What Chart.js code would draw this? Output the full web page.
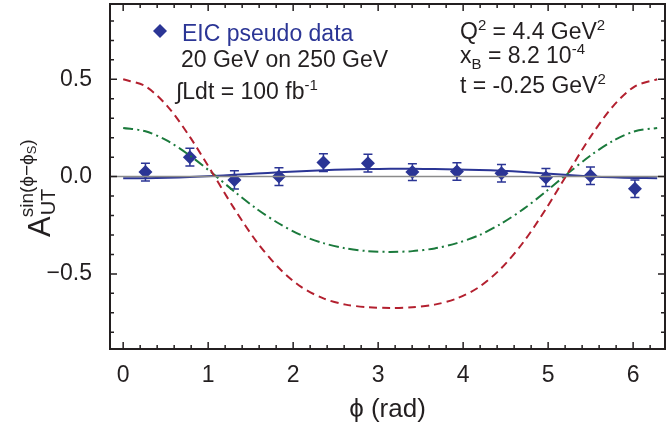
<!DOCTYPE html>
<html>
<head>
<meta charset="utf-8">
<script src="https://cdn.jsdelivr.net/npm/chart.js@4.4.0/dist/chart.umd.min.js"></script>
<style>
  html, body { margin: 0; padding: 0; background: #fff; overflow: hidden; }
</style>
</head>
<body>
<canvas id="chartCanvas" width="666" height="424"></canvas>
<script>
// abscisas de las curvas (rad), de 0 a 2pi
const phiCurva = [0, 0.262, 0.524, 0.785, 1.047, 1.309, 1.571, 1.833, 2.094, 2.356, 2.618, 2.880, 3.142,
  3.403, 3.665, 3.927, 4.189, 4.451, 4.712, 4.974, 5.236, 5.498, 5.760, 6.021, 6.283];
const curvaRoja = [0.500, 0.464, 0.360, 0.204, 0.021, -0.166, -0.335, -0.470, -0.567, -0.626, -0.658, -0.671, -0.675,
  -0.671, -0.658, -0.626, -0.567, -0.470, -0.335, -0.166, 0.021, 0.204, 0.360, 0.464, 0.500];
const curvaVerde = [0.250, 0.233, 0.183, 0.108, 0.018, -0.077, -0.166, -0.241, -0.301, -0.342, -0.369, -0.383, -0.387,
  -0.383, -0.369, -0.342, -0.301, -0.241, -0.166, -0.077, 0.018, 0.108, 0.183, 0.233, 0.250];
const curvaAzul = [-0.009, -0.008, -0.006, -0.002, 0.003, 0.009, 0.016, 0.022, 0.028, 0.033, 0.037, 0.039, 0.040,
  0.040, 0.039, 0.037, 0.034, 0.030, 0.024, 0.016, 0.008, 0.001, -0.004, -0.007, -0.008];

// pseudo datos EIC
const phiDatos = [0.262, 0.785, 1.309, 1.833, 2.356, 2.880, 3.403, 3.927, 4.451, 4.974, 5.498, 6.021];
const valoresDatos = [0.023, 0.100, -0.017, 0.000, 0.072, 0.069, 0.023, 0.026, 0.017, -0.005, 0.004, -0.063];
const erroresDatos = [0.046, 0.046, 0.047, 0.046, 0.046, 0.046, 0.043, 0.045, 0.045, 0.046, 0.045, 0.045];

const ticksX = [0, 1, 2, 3, 4, 5, 6];
const ticksY = [-0.5, 0, 0.5];
const limitesX = [-0.155, 6.375];
const limitesY = [-0.886, 0.887];

const NEGRO = "#231f20";
const AZUL = "#2b3595";
const ROJO = "#b3202f";
const VERDE = "#1b7a3c";
const FUENTE = "'Liberation Sans', Arial, sans-serif";

const puntos = (xs, ys) => xs.map((x, i) => ({ x, y: ys[i] }));

// dibuja trozos de texto seguidos (super/subindices)
function trozos(ctx, x, y, partes, color) {
  ctx.fillStyle = color;
  ctx.textBaseline = "alphabetic";
  ctx.textAlign = "left";
  partes.forEach(([txt, size, dy]) => {
    ctx.font = `${size}px ${FUENTE}`;
    ctx.fillText(txt, x, y + dy);
    x += ctx.measureText(txt).width;
  });
}

// sin relleno extra por las etiquetas de los extremos
function sinPadding(s) {
  s.paddingTop = 0; s.paddingBottom = 0;
  s.paddingLeft = 0; s.paddingRight = 0;
}

const marcoPlugin = {
  id: "marco",
  beforeDatasetDraw(chart, args) {
    if (args.index !== 4) return;
    const { ctx, scales: { x, y } } = chart;
    ctx.save();
    ctx.strokeStyle = AZUL;
    ctx.lineWidth = 1.5;
    phiDatos.forEach((p, i) => {
      const px = x.getPixelForValue(p);
      const y1 = y.getPixelForValue(valoresDatos[i] + erroresDatos[i]);
      const y2 = y.getPixelForValue(valoresDatos[i] - erroresDatos[i]);
      ctx.beginPath();
      ctx.moveTo(px, y1); ctx.lineTo(px, y2);
      ctx.moveTo(px - 4.5, y1); ctx.lineTo(px + 4.5, y1);
      ctx.moveTo(px - 4.5, y2); ctx.lineTo(px + 4.5, y2);
      ctx.stroke();
    });
    ctx.restore();
  },
  afterDraw(chart) {
    const { ctx, chartArea: a, scales: { x, y } } = chart;
    ctx.save();

    // marco
    ctx.strokeStyle = NEGRO;
    ctx.lineWidth = 2;
    ctx.strokeRect(a.left, a.top, a.right - a.left, a.bottom - a.top);

    // ticks hacia dentro
    ctx.lineWidth = 1.5;
    ctx.beginPath();
    for (let v = 0; v <= 6.4001; v += 0.2) {
      const px = x.getPixelForValue(v);
      if (px > a.right) break;
      const largo = Math.abs(v - Math.round(v)) < 1e-6 ? 7 : 4;
      ctx.moveTo(px, a.bottom); ctx.lineTo(px, a.bottom - largo);
      ctx.moveTo(px, a.top); ctx.lineTo(px, a.top + largo);
    }
    for (let v = -0.8; v <= 0.8001; v += 0.1) {
      const py = y.getPixelForValue(v);
      const largo = Math.abs(v * 2 - Math.round(v * 2)) < 1e-6 ? 7 : 4;
      ctx.moveTo(a.left, py); ctx.lineTo(a.left + largo, py);
      ctx.moveTo(a.right, py); ctx.lineTo(a.right - largo, py);
    }
    ctx.stroke();

    // leyenda
    const dx = 160, dy = 31, r = 7;
    ctx.fillStyle = AZUL;
    ctx.beginPath();
    ctx.moveTo(dx, dy - r); ctx.lineTo(dx + r, dy); ctx.lineTo(dx, dy + r); ctx.lineTo(dx - r, dy);
    ctx.closePath(); ctx.fill();
    trozos(ctx, 182, 41, [["EIC pseudo data", 23, 0]], AZUL);
    trozos(ctx, 181, 67, [["20 GeV on 250 GeV", 23, 0]], NEGRO);
    trozos(ctx, 176, 99, [["\u222BLdt = 100 fb", 23, 0], ["-1", 15, -9]], NEGRO);

    trozos(ctx, 460, 39, [["Q", 23, 0], ["2", 15, -9], [" = 4.4 GeV", 23, 0], ["2", 15, -9]], NEGRO);
    trozos(ctx, 460, 63, [["x", 23, 0], ["B", 15, 6], [" = 8.2 10", 23, 0], ["-4", 15, -9]], NEGRO);
    trozos(ctx, 460, 93, [["t = -0.25 GeV", 23, 0], ["2", 15, -9]], NEGRO);

    // titulo eje x
    ctx.font = `26px ${FUENTE}`;
    ctx.fillStyle = NEGRO;
    ctx.textAlign = "center";
    ctx.fillText("\u03D5 (rad)", (a.left + a.right) / 2, 417);

    // titulo eje y, rotado
    ctx.translate(50, 237);
    ctx.rotate(-Math.PI / 2);
    ctx.textAlign = "left";
    ctx.font = `31px ${FUENTE}`;
    ctx.fillText("A", 0, 0);
    let cx = ctx.measureText("A").width + 1;
    ctx.font = `20px ${FUENTE}`;
    ctx.fillText("UT", cx, 5);
    trozos(ctx, cx - 2, -17, [["sin(\u03D5\u2212\u03D5", 19, 0], ["S", 13, 3], [")", 19, 0]], NEGRO);

    ctx.restore();
  }
};

const ctx = document.getElementById("chartCanvas").getContext("2d");
window.miGrafica = new Chart(ctx, {
  type: "line",
  data: {
    datasets: [
      { data: puntos(limitesX, [0, 0]), borderColor: "#8a8a8a", borderWidth: 1.5, pointRadius: 0 },
      { data: puntos(phiCurva, curvaRoja), borderColor: ROJO, borderWidth: 2, borderDash: [8, 5], pointRadius: 0, tension: 0.3 },
      { data: puntos(phiCurva, curvaVerde), borderColor: VERDE, borderWidth: 2, borderDash: [10, 4, 2, 4], pointRadius: 0, tension: 0.3 },
      { data: puntos(phiCurva, curvaAzul), borderColor: AZUL, borderWidth: 2, pointRadius: 0, tension: 0.3 },
      { data: puntos(phiDatos, valoresDatos), showLine: false, pointStyle: "rectRot", pointRadius: 7,
        backgroundColor: AZUL, borderColor: AZUL, borderWidth: 0 }
    ]
  },
  options: {
    responsive: false,
    animation: false,
    events: [],
    layout: { autoPadding: false, padding: { top: 4, right: 1, left: 0, bottom: 0 } },
    plugins: { legend: { display: false }, tooltip: { enabled: false } },
    scales: {
      x: {
        type: "linear", min: limitesX[0], max: limitesX[1],
        afterFit: s => { s.height = 75; sinPadding(s); },
        afterBuildTicks: s => { s.ticks = ticksX.map(v => ({ value: v })); },
        grid: { display: false }, border: { display: false },
        ticks: { autoSkip: false, maxRotation: 0, padding: 5, color: NEGRO,
          font: { size: 23, family: FUENTE }, callback: v => String(v) }
      },
      y: {
        type: "linear", min: limitesY[0], max: limitesY[1],
        afterFit: s => { s.width = 110; sinPadding(s); },
        afterBuildTicks: s => { s.ticks = ticksY.map(v => ({ value: v })); },
        grid: { display: false }, border: { display: false },
        ticks: { autoSkip: false, padding: 10, color: NEGRO,
          font: { size: 23, family: FUENTE },
          callback: v => (v < 0 ? "\u2212" : "") + Math.abs(v).toFixed(1) }
      }
    }
  },
  plugins: [marcoPlugin]
});
</script>
</body>
</html>
